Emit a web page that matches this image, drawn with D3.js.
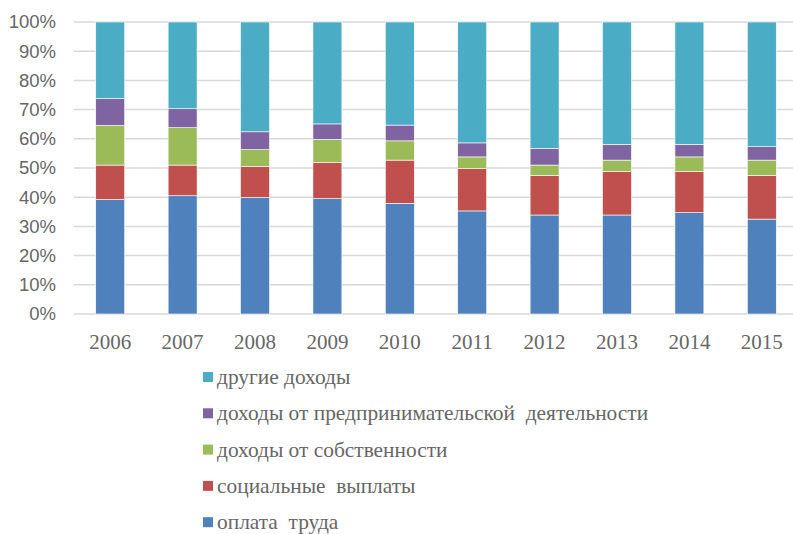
<!DOCTYPE html>
<html>
<head>
<meta charset="utf-8">
<script src="https://cdn.jsdelivr.net/npm/d3@7"></script>
<style>
body { margin: 0; background: #fff; }
text { white-space: pre; }
</style>
</head>
<body>
<script>
// years and shares (%)
var years = ["2006", "2007", "2008", "2009", "2010", "2011", "2012", "2013", "2014", "2015"];
var wages    = [39.2, 40.5, 39.9, 39.5, 37.9, 35.3, 33.9, 33.9, 34.7, 32.5];
var social   = [11.8, 10.5, 10.6, 12.4, 14.8, 14.5, 13.6, 14.9, 14.1, 15.0];
var property = [13.6, 12.8, 5.8, 7.9, 6.6, 4.0, 3.5, 3.9, 5.0, 5.2];
var business = [9.2, 6.5, 6.1, 5.3, 5.4, 4.8, 5.7, 5.4, 4.3, 4.6];
var other    = [26.2, 29.7, 37.6, 34.9, 35.3, 41.4, 43.3, 41.9, 41.9, 42.7];

var seriesNames = ["оплата  труда", "социальные  выплаты", "доходы от собственности",
                   "доходы от предпринимательской  деятельности", "другие доходы"];
var seriesColors = ["#4f81bd", "#c0504d", "#9bbb59", "#8064a2", "#4bacc6"];
var yTicks = [0, 10, 20, 30, 40, 50, 60, 70, 80, 90, 100];

var W = 793, H = 534;
var svg = d3.select("body").append("svg")
    .attr("width", W)
    .attr("height", H);

var keys = ["wages", "social", "property", "business", "other"];
var table = years.map(function(y, i) {
  return {year: y, wages: wages[i], social: social[i], property: property[i],
          business: business[i], other: other[i]};
});
var stacked = d3.stack().keys(keys)(table);

var x = d3.scaleBand().domain(years).range([74, 798]).paddingInner(0.6).paddingOuter(0.3);
var y = d3.scaleLinear().domain([0, 100]).range([314, 22]);

// grid lines
svg.append("g").selectAll("line")
    .data(yTicks)
    .enter().append("line")
    .attr("x1", 74)
    .attr("x2", W)
    .attr("y1", function(d) { return y(d); })
    .attr("y2", function(d) { return y(d); })
    .attr("stroke", "#d9d9d9")
    .attr("stroke-width", 1.5);

// y axis labels
var yAxis = svg.append("g")
    .attr("transform", "translate(74,0)")
    .call(d3.axisLeft(y).tickValues(yTicks).tickSize(0).tickPadding(18)
      .tickFormat(function(d) { return d + "%"; }));
yAxis.select(".domain").remove();
yAxis.selectAll("text")
    .attr("fill", "#666")
    .attr("font-family", "Liberation Sans, Arial, sans-serif")
    .attr("font-size", 18.5);

// bars
svg.append("g").selectAll("g")
    .data(stacked)
    .enter().append("g")
    .attr("fill", function(d, i) { return seriesColors[i]; })
    .selectAll("rect")
    .data(function(d) { return d; })
    .enter().append("rect")
    .attr("x", function(d) { return x(d.data.year); })
    .attr("width", x.bandwidth())
    .attr("y", function(d) { return y(d[1]); })
    .attr("height", function(d) { return y(d[0]) - y(d[1]); })
    .attr("stroke", "#fff")
    .attr("stroke-width", 0.6);

// x axis labels
var xAxis = svg.append("g")
    .attr("transform", "translate(0,314)")
    .call(d3.axisBottom(x).tickSize(0).tickPadding(20));
xAxis.select(".domain").remove();
xAxis.selectAll("text")
    .attr("fill", "#666")
    .attr("font-family", "Liberation Serif, Times New Roman, serif")
    .attr("font-size", 21);

// legend, reversed order
var legendOrder = [4, 3, 2, 1, 0];
var legend = svg.append("g").selectAll("g")
    .data(legendOrder)
    .enter().append("g")
    .attr("transform", function(d, i) { return "translate(203," + (377 + i * 36.3) + ")"; });
legend.append("rect")
    .attr("x", 0)
    .attr("y", -5)
    .attr("width", 10)
    .attr("height", 10)
    .attr("fill", function(d) { return seriesColors[d]; });
legend.append("text")
    .attr("x", 14)
    .attr("y", 7)
    .attr("fill", "#666")
    .attr("font-family", "Liberation Serif, Times New Roman, serif")
    .attr("font-size", 21.4)
    .text(function(d) { return seriesNames[d]; });
</script>
</body>
</html>
